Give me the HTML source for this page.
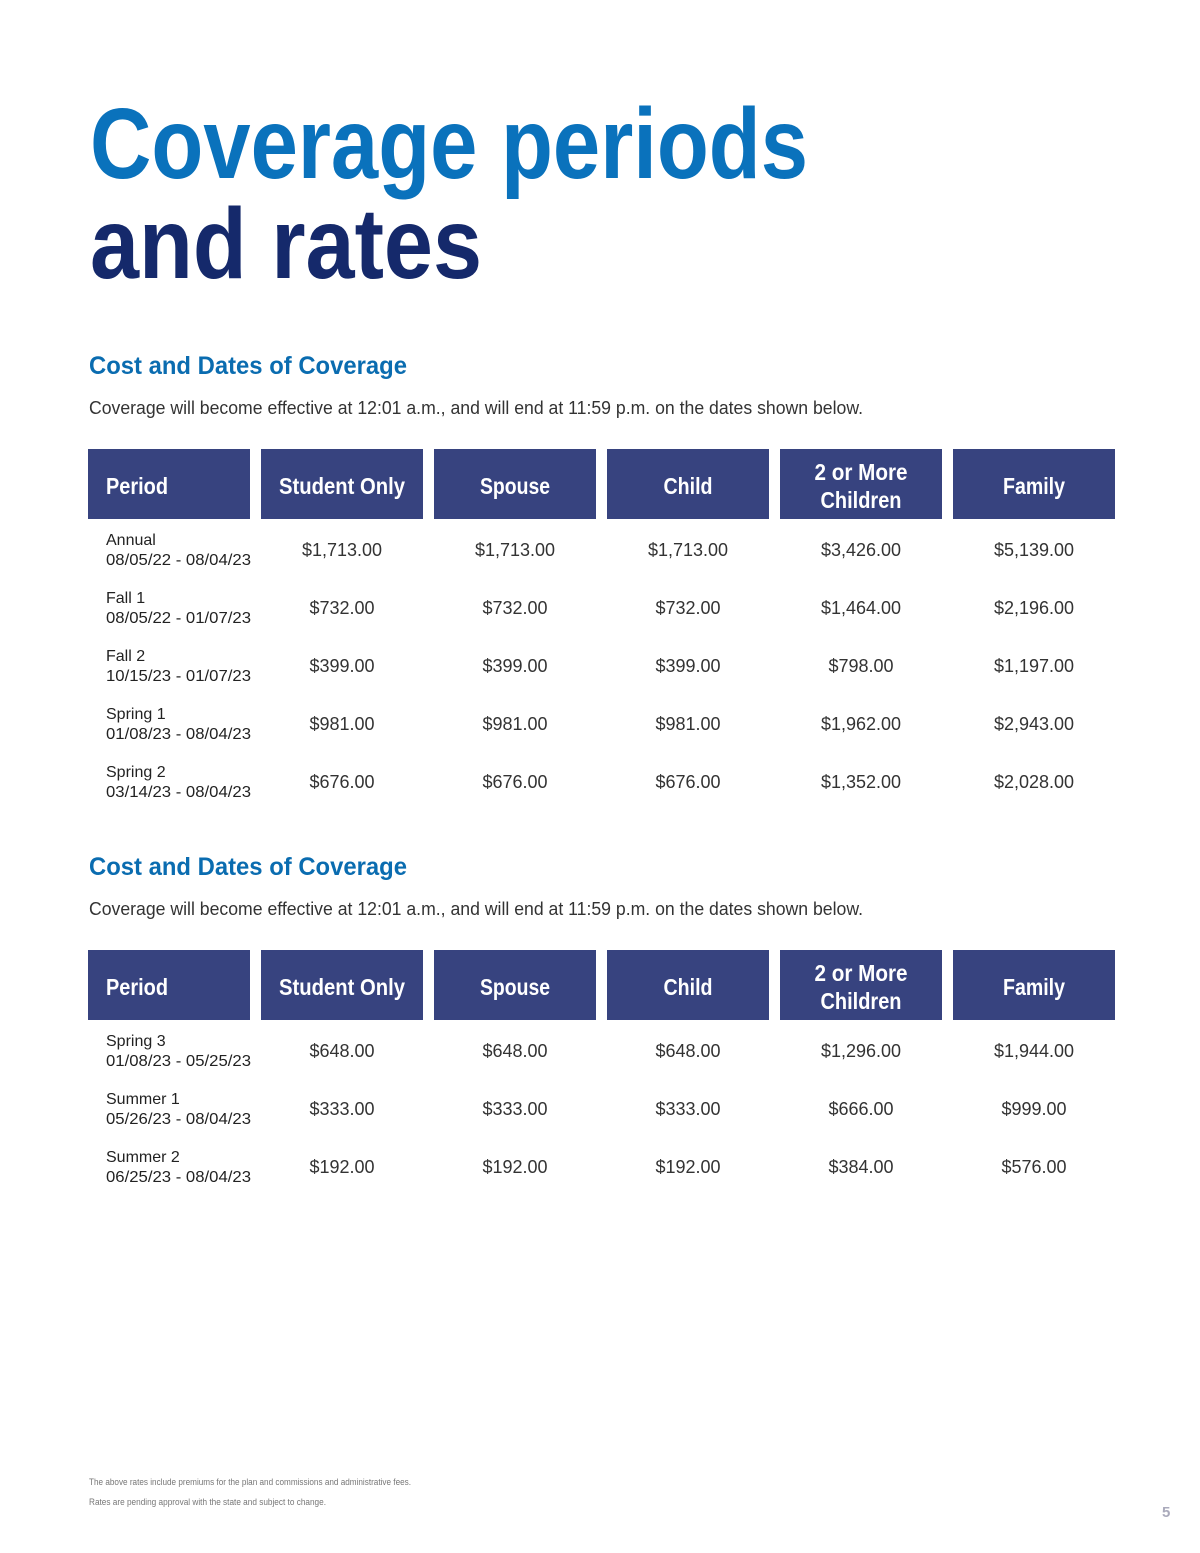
<!DOCTYPE html>
<html><head><meta charset="utf-8"><style>
html,body{margin:0;padding:0;background:#fff;}
svg{display:block;font-family:"Liberation Sans",sans-serif;}
</style></head><body>
<svg id="page" width="1200" height="1553" viewBox="0 0 1200 1553" xmlns="http://www.w3.org/2000/svg">
<text x="90" y="178" font-size="100" font-weight="bold" fill="#0a72bc" textLength="718" lengthAdjust="spacingAndGlyphs">Coverage periods</text>
<text x="90" y="278" font-size="100" font-weight="bold" fill="#15296b" textLength="392" lengthAdjust="spacingAndGlyphs">and rates</text>
<g id="tables"></g>
<text x="89" y="1485" font-size="9" fill="#777" textLength="322" lengthAdjust="spacingAndGlyphs">The above rates include premiums for the plan and commissions and administrative fees.</text>
<text x="89" y="1505" font-size="9" fill="#777" textLength="237" lengthAdjust="spacingAndGlyphs">Rates are pending approval with the state and subject to change.</text>
<text x="1162" y="1517" font-size="15" font-weight="bold" fill="#aab">5</text>
</svg>
<script>
const headers=["Period","Student Only","Spouse","Child","2 or More|Children","Family"];
const headerLens={"Period":62,"Student Only":126,"Spouse":70,"Child":49,"2 or More":93,"Children":81,"Family":62};
const periods1=["Annual","Fall 1","Fall 2","Spring 1","Spring 2"];
const dates1=["08/05/22 - 08/04/23","08/05/22 - 01/07/23","10/15/23 - 01/07/23","01/08/23 - 08/04/23","03/14/23 - 08/04/23"];
const rates1=[["$1,713.00","$1,713.00","$1,713.00","$3,426.00","$5,139.00"],["$732.00","$732.00","$732.00","$1,464.00","$2,196.00"],["$399.00","$399.00","$399.00","$798.00","$1,197.00"],["$981.00","$981.00","$981.00","$1,962.00","$2,943.00"],["$676.00","$676.00","$676.00","$1,352.00","$2,028.00"]];
const periods2=["Spring 3","Summer 1","Summer 2"];
const dates2=["01/08/23 - 05/25/23","05/26/23 - 08/04/23","06/25/23 - 08/04/23"];
const rates2=[["$648.00","$648.00","$648.00","$1,296.00","$1,944.00"],["$333.00","$333.00","$333.00","$666.00","$999.00"],["$192.00","$192.00","$192.00","$384.00","$576.00"]];
const NS="http://www.w3.org/2000/svg";
const g=document.getElementById('tables');
function mk(tag,attrs,txt){const e=document.createElementNS(NS,tag);for(const k in attrs)e.setAttribute(k,attrs[k]);if(txt!=null)e.textContent=txt;g.appendChild(e);return e;}
function table(top,periods,dates,rates,idx){
  const hy=top;
  let t=mk('text',{x:89,y:hy-75,'font-size':25,'font-weight':'bold',fill:'#0a6cb0',textLength:318,lengthAdjust:'spacingAndGlyphs'},'Cost and Dates of Coverage');
  
  
  t=mk('text',{x:89,y:hy-35,'font-size':18,fill:'#333',textLength:774,lengthAdjust:'spacingAndGlyphs'},'Coverage will become effective at 12:01 a.m., and will end at 11:59 p.m. on the dates shown below.');
  
  
  for(let c=0;c<6;c++){
    const x=88+c*173;
    const r=mk('rect',{x:x,y:hy,width:162,height:70,fill:'#37437f'});
    
    
    const parts=headers[c].split('|');
    parts.forEach((p,i)=>{
      const ty=parts.length==1?hy+45:hy+31+i*28;
      const tx=c==0?x+18:x+81;
      const e=mk('text',{x:tx,y:ty,'font-size':23,'font-weight':'bold',fill:'#fff','text-anchor':c==0?'start':'middle',textLength:headerLens[p]||80,lengthAdjust:'spacingAndGlyphs'},p);
      
      
    });
  }
  periods.forEach((p,r)=>{
    const cy=hy+100+r*58;
    let e=mk('text',{x:106,y:cy-4,'font-size':16,fill:'#222'},p);
    
    
    e=mk('text',{x:106,y:cy+16,'font-size':16,fill:'#222',textLength:145,lengthAdjust:'spacingAndGlyphs'},dates[r]);
    
    
    rates[r].forEach((v,c)=>{
      const x=88+(c+1)*173+81;
      const v2=mk('text',{x:x,y:cy+7,'font-size':18,fill:'#333','text-anchor':'middle'},v);
      
      
    });
  });
}
table(449,periods1,dates1,rates1,1);
table(950,periods2,dates2,rates2,2);
</script>
</body></html>
